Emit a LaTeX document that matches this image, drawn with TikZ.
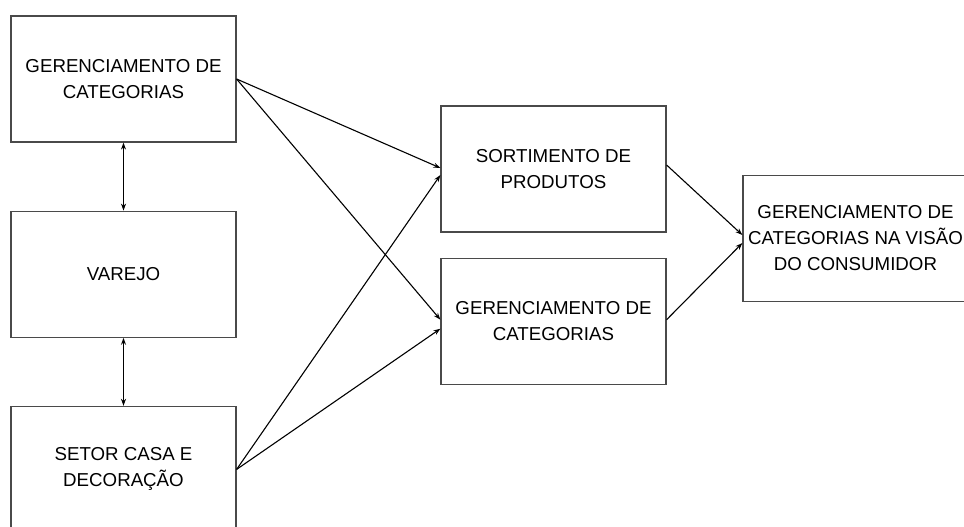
\documentclass[tikz,border=0pt]{standalone}
\usepackage{fontspec}
\setmainfont{Liberation Sans}
\usetikzlibrary{positioning,arrows.meta}
\definecolor{cinza_borda}{HTML}{4A4A4A}

\begin{document}
\begin{tikzpicture}[x=1pt,y=-1pt,>={Stealth[length=7pt,width=5pt]},
    caixa/.style={draw=cinza_borda,line width=1.2pt,minimum width=225pt,minimum height=126pt,
        inner sep=0pt,align=center,font=\fontsize{18.7}{26}\selectfont},
    seta/.style={->,line width=1.1pt}]

    \useasboundingbox (0,0) rectangle (964,527);
    \clip (0,0) rectangle (964,527);

    % Colonne de gauche
    \node[caixa] (gerencia) at (123.5,79) {GERENCIAMENTO DE\\CATEGORIAS};
    \node[caixa,below=68pt of gerencia] (varejo) {VAREJO};
    \node[caixa,below=68pt of varejo] (setor) {SETOR CASA E\\DECORAÇÃO};

    % Colonne du milieu
    \node[caixa] (sortimento) at (553.5,169) {SORTIMENTO DE\\PRODUTOS};
    \node[caixa,below=25pt of sortimento] (gercat) {GERENCIAMENTO DE\\CATEGORIAS};

    % Boite de droite
    \node[caixa] (visao) at (855.5,238.5) {GERENCIAMENTO DE\\CATEGORIAS NA VISÃO\\DO CONSUMIDOR};

    % Fleches verticales
    \draw[<->,line width=1.1pt] (gerencia.south) -- (varejo.north);
    \draw[<->,line width=1.1pt] (varejo.south) -- (setor.north);

    % Fleches vers le milieu
    \draw[seta] (gerencia.east) -- ([yshift=1pt]sortimento.west);
    \draw[seta] (gerencia.east) -- ([yshift=1.5pt]gercat.west);
    \draw[seta] (setor.east) -- ([yshift=-6pt]sortimento.west);
    \draw[seta] (setor.east) -- ([yshift=-7.5pt]gercat.west);

    % Fleches vers la droite
    \draw[seta] ([yshift=4pt]sortimento.east) -- ([yshift=3.5pt]visao.west);
    \draw[seta] ([yshift=1.5pt]gercat.east) -- ([yshift=-4.5pt]visao.west);
\end{tikzpicture}
\end{document}
